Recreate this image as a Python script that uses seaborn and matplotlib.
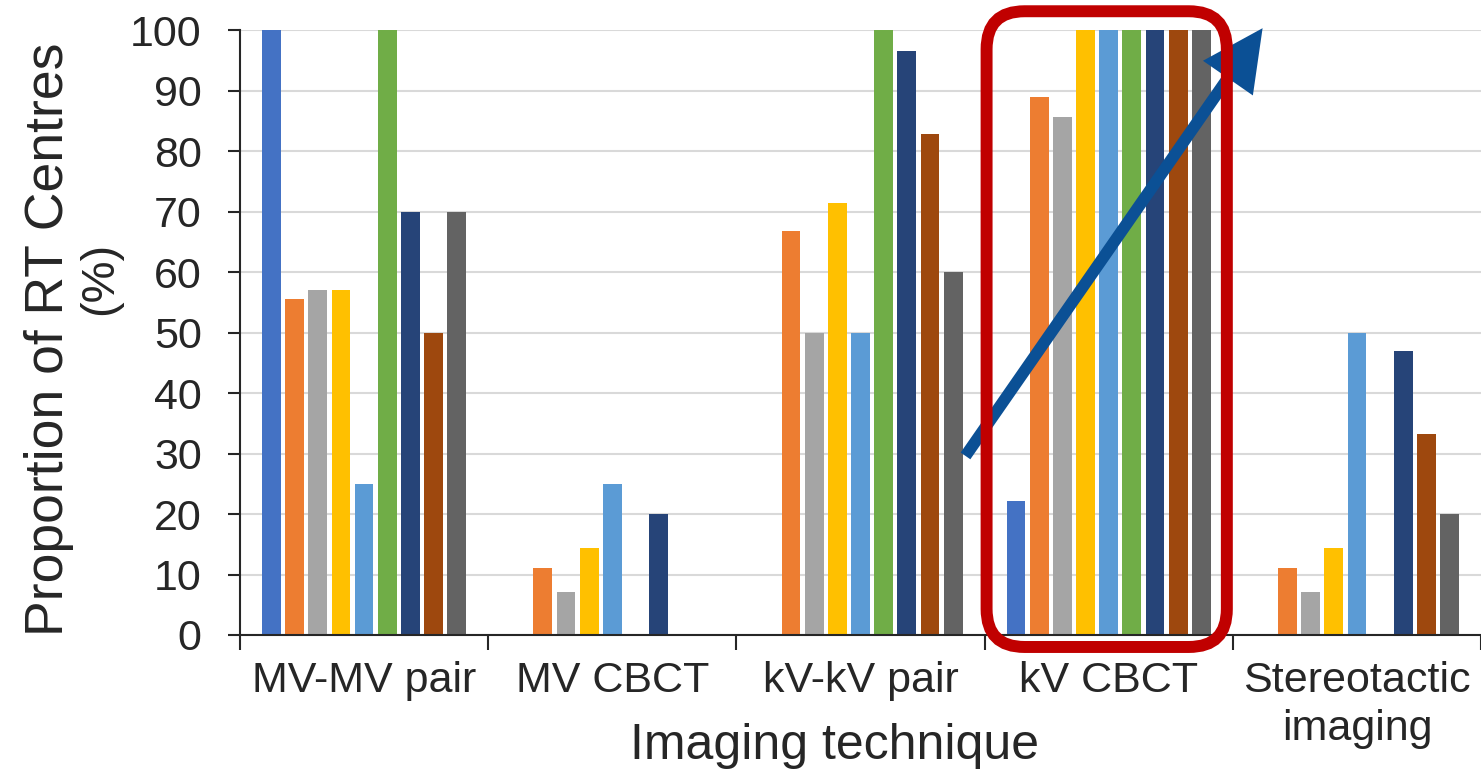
import numpy as np
import pandas as pd
import seaborn as sns
import matplotlib
matplotlib.use("Agg")
import matplotlib.pyplot as plt
from matplotlib.patches import FancyBboxPatch, FancyArrowPatch, ArrowStyle
from matplotlib.transforms import IdentityTransform

# ---------------- data ----------------
techniques = ["MV-MV pair", "MV CBCT", "kV-kV pair", "kV CBCT", "Stereotactic\nimaging"]
series_names = ["Series 1", "Series 2", "Series 3", "Series 4", "Series 5",
                "Series 6", "Series 7", "Series 8", "Series 9"]
mv_mv_pair = [100, 55.6, 57.1, 57.1, 25.0, 100, 70.0, 50.0, 70.0]
mv_cbct = [0, 11.1, 7.1, 14.3, 25.0, 0, 20.0, 0, 0]
kv_kv_pair = [0, 66.7, 50.0, 71.4, 50.0, 100, 96.6, 82.8, 60.0]
kv_cbct = [22.2, 88.9, 85.7, 100, 100, 100, 100, 100, 100]
stereotactic = [0, 11.1, 7.1, 14.3, 50.0, 0, 47.0, 33.3, 20.0]
yticks = [0, 10, 20, 30, 40, 50, 60, 70, 80, 90, 100]

colors = ["#4472C4", "#ED7D31", "#A5A5A5", "#FFC000", "#5B9BD5",
          "#70AD47", "#264478", "#9E480E", "#636363"]

values = [mv_mv_pair, mv_cbct, kv_kv_pair, kv_cbct, stereotactic]
rows = []
for tech, vals in zip(techniques, values):
    for s, v in zip(series_names, vals):
        rows.append({"technique": tech, "series": s, "value": v})
df = pd.DataFrame(rows)

# ---------------- style ----------------
sns.set_style("white")
plt.rcParams["font.family"] = ["Liberation Sans", "DejaVu Sans"]

W, H = 1481, 781
fig = plt.figure(figsize=(W / 100, H / 100), dpi=100)
ax = fig.add_axes([240 / W, 1 - 635 / H, 1241 / W, 605 / H])

sns.barplot(data=df, x="technique", y="value", hue="series",
            order=techniques, hue_order=series_names, palette=colors,
            saturation=1, width=0.84, gap=0.19, legend=False, ax=ax,
            linewidth=0, errorbar=None)

ax.set_ylim(0, 100)
ax.set_xlim(-0.5, len(techniques) - 0.5)
ax.set_axisbelow(True)
ax.set_yticks(yticks)
ax.set_yticklabels([str(t) for t in yticks])
ax.yaxis.grid(True, color="#D9D9D9", linewidth=1.5)
ax.xaxis.grid(False)

for s in ["top", "right"]:
    ax.spines[s].set_visible(False)
for s in ["left", "bottom"]:
    ax.spines[s].set_color("#262626")
    ax.spines[s].set_linewidth(1.5)

ax.tick_params(axis="y", which="major", direction="out", length=8.6, width=1.5,
               color="#262626", labelsize=31, pad=19, left=True)

# category boundaries as major ticks, labels on minor ticks at centres
centres = np.arange(len(techniques))
ax.set_xticks(np.arange(len(techniques) + 1) - 0.5)
ax.set_xticklabels([""] * (len(techniques) + 1))
ax.set_xticks(centres, minor=True)
ax.set_xticklabels(techniques, minor=True, fontsize=31, linespacing=1.25)
ax.tick_params(axis="x", which="major", direction="out", length=11, width=1.5,
               color="#262626", bottom=True)
ax.tick_params(axis="x", which="minor", length=0, pad=19, bottom=True)

ax.set_xlabel("Imaging technique", fontsize=36)
ax.xaxis.set_label_coords(0.479, -0.145)
ax.set_ylabel("Proportion of RT Centres", fontsize=38.5)
ax.yaxis.set_label_coords(-0.134, 0.488)
ax.text(-0.113, 0.59, "(%)", transform=ax.transAxes, rotation=90,
        ha="center", va="center", fontsize=34)

# ---------------- annotations ----------------
fig.canvas.draw()
(x0, y0), (x1, y1) = ax.transData.transform([(2.508, -1.98), (3.476, 103.1)])
box = FancyBboxPatch((x0, y0), x1 - x0, y1 - y0,
                     boxstyle="round,pad=0,rounding_size=38",
                     transform=IdentityTransform(), fill=False,
                     edgecolor="#C00000", linewidth=8.6, clip_on=False,
                     zorder=5)
fig.patches.append(box)
box.set_figure(fig)

arrow = FancyArrowPatch((2.423, 29.6), (3.62, 100.3),
                        arrowstyle=ArrowStyle("-|>", head_length=30, head_width=15),
                        mutation_scale=1, lw=8.5, color="#0B5095",
                        joinstyle="miter", capstyle="butt",
                        shrinkA=0, shrinkB=0, clip_on=False, zorder=6,
                        transform=ax.transData)
ax.add_patch(arrow)

fig.savefig("out.png", dpi=100)
